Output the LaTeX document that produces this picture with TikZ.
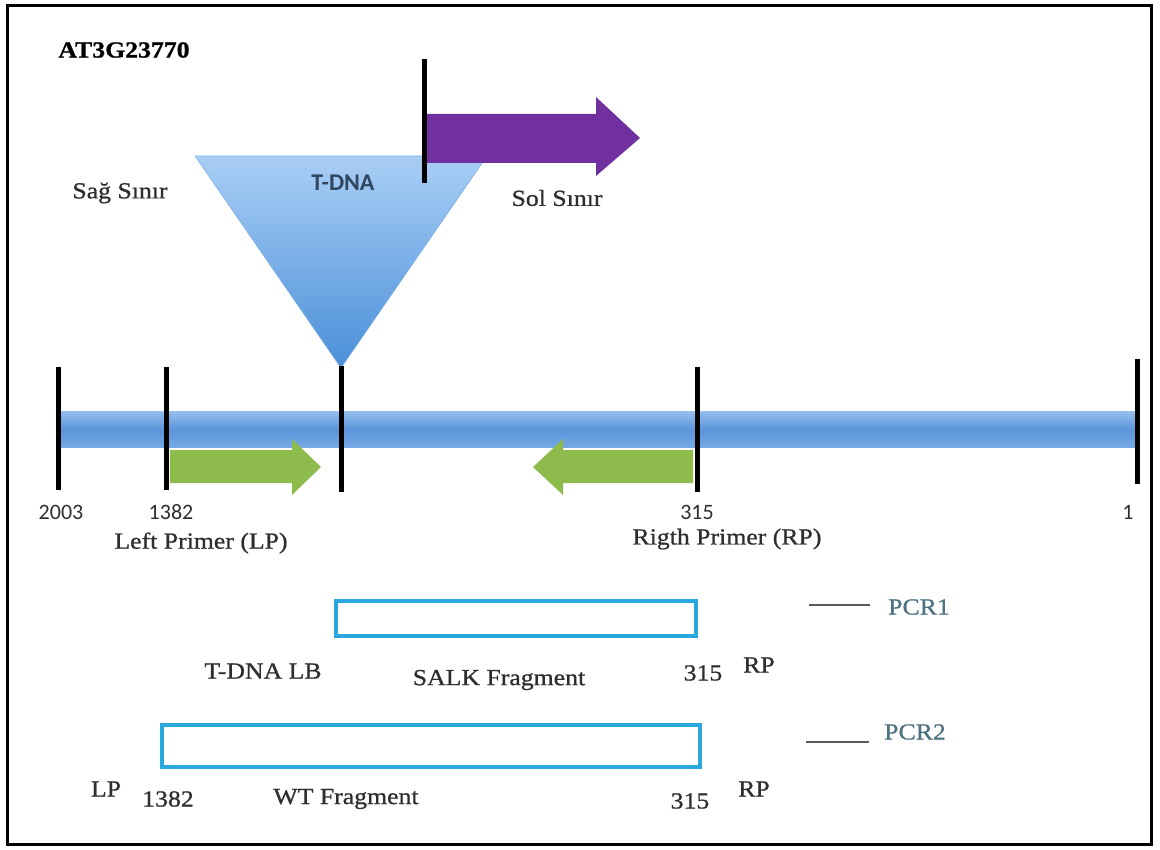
\documentclass[tikz,border=0pt]{standalone}
\usepackage{fontspec}
\setmainfont{Liberation Serif}[FakeStretch=1.12,FakeBold=0.9]
\newfontfamily\numfont{Carlito}
\usetikzlibrary{positioning}

\definecolor{txtgray}{HTML}{2E2E2E}
\definecolor{pcrteal}{HTML}{4E7282}
\definecolor{tdnatext}{HTML}{2F4560}
\definecolor{tritop}{HTML}{A9CEF6}
\definecolor{tribot}{HTML}{4A8FD8}
\definecolor{barlight}{HTML}{94BDEE}
\definecolor{barmid}{HTML}{5A94DA}
\definecolor{bardark}{HTML}{76A8E4}
\definecolor{primergreen}{HTML}{8DBB4C}
\definecolor{lbpurple}{HTML}{7030A0}
\definecolor{fragcyan}{HTML}{2AA7DF}

\begin{document}
\begin{tikzpicture}
  [x=1pt,y=-1pt,
   lbl/.style={text=txtgray,inner sep=0pt,font=\fontsize{23}{26}\selectfont},
   num/.style={text=txtgray,inner sep=0pt,font=\numfont\fontsize{22}{24}\selectfont},
   pcr/.style={text=pcrteal,inner sep=0pt,font=\fontsize{23}{26}\selectfont},
   tick/.style={line width=5pt,black},
   frag/.style={draw=fragcyan,line width=3.2pt},
   legend/.style={draw=black!65,line width=2.6pt}]

  \useasboundingbox (0,0) rectangle (1160,850);
  \draw[line width=3pt] (7.5,5.5) rectangle (1151.5,844);

  \node[inner sep=0pt,text=black,font=\bfseries\fontsize{23}{26}\selectfont] (gene) at (124,50) {AT3G23770};

  % T-DNA insert
  \shade[top color=tritop,bottom color=tribot,draw=tribot!70,line width=.6pt]
    (195,156) -- (487,156) -- (341,368) -- cycle;
  \node[text=tdnatext,inner sep=0pt,font=\numfont\bfseries\fontsize{24}{26}\selectfont] (tdna) at (343,183) {T-DNA};

  % left border arrow
  \fill[lbpurple] (426,114) -- (596,114) -- (596,97) -- (640,138)
    -- (596,176) -- (596,163) -- (426,163) -- cycle;
  \coordinate (lbtop) at (424,59);
  \coordinate (lbbot) at (424,183);
  \draw[tick] (lbtop) -- (lbbot);

  \node[lbl] (rb) at (120,193) {Sağ Sınır};
  \node[lbl] (lb) at (557,198) {Sol Sınır};

  % chromosome
  \shade[top color=barlight,bottom color=bardark,middle color=barmid]
    (60,412) rectangle (1137,447);

  \foreach \name/\x/\ya/\yb in {t2003/58/367/490, t1382/166/367/490, tins/341/366/492,
                                 t315/697/367/492, t1/1137/359/484}
  {
    \coordinate (\name a) at (\x,\ya);
    \coordinate (\name b) at (\x,\yb);
    \draw[tick] (\name a) -- (\name b);
  }

  % primers
  \fill[primergreen] (170,450) -- (292,450) -- (292,439) -- (321,467)
    -- (292,495) -- (292,483) -- (170,483) -- cycle;
  \fill[primergreen] (693,450) -- (563,450) -- (563,439) -- (533,467)
    -- (563,495) -- (563,483) -- (693,483) -- cycle;

  \node[num] (n2003) at (61,512) {2003};
  \node[num] (n1382) at (171,512) {1382};
  \node[num] (n315) at (697,512) {315};
  \node[num] (n1) at (1128,512) {1};
  \node[lbl] (lp) at (201,543) {Left Primer (LP)};
  \node[lbl] (rp) at (727,539) {Rigth Primer (RP)};

  % PCR products
  \draw[frag] (336,601) rectangle (696,636);
  \coordinate (pcr1a) at (809,605);
  \coordinate (pcr1b) at (870,605);
  \draw[legend] (pcr1a) -- (pcr1b);
  \node[pcr] (pcr1) at (919,607) {PCR1};

  \node[lbl] (salklb) at (263,671) {T-DNA LB};
  \node[lbl] (salk) at (499,680) {SALK Fragment};
  \node[lbl] (salk315) at (703,673) {315};
  \node[lbl] (salkrp) at (759,665) {RP};

  \draw[frag] (162,725) rectangle (700,767);
  \coordinate (pcr2a) at (806,742);
  \coordinate (pcr2b) at (869,742);
  \draw[legend] (pcr2a) -- (pcr2b);
  \node[pcr] (pcr2) at (915,732) {PCR2};

  \node[lbl] (wtlp) at (106,789) {LP};
  \node[lbl] (wt1382) at (168,799) {1382};
  \node[lbl] (wt) at (346,799) {WT Fragment};
  \node[lbl] (wt315) at (690,801) {315};
  \node[lbl] (wtrp) at (754,789) {RP};

\end{tikzpicture}
\end{document}
